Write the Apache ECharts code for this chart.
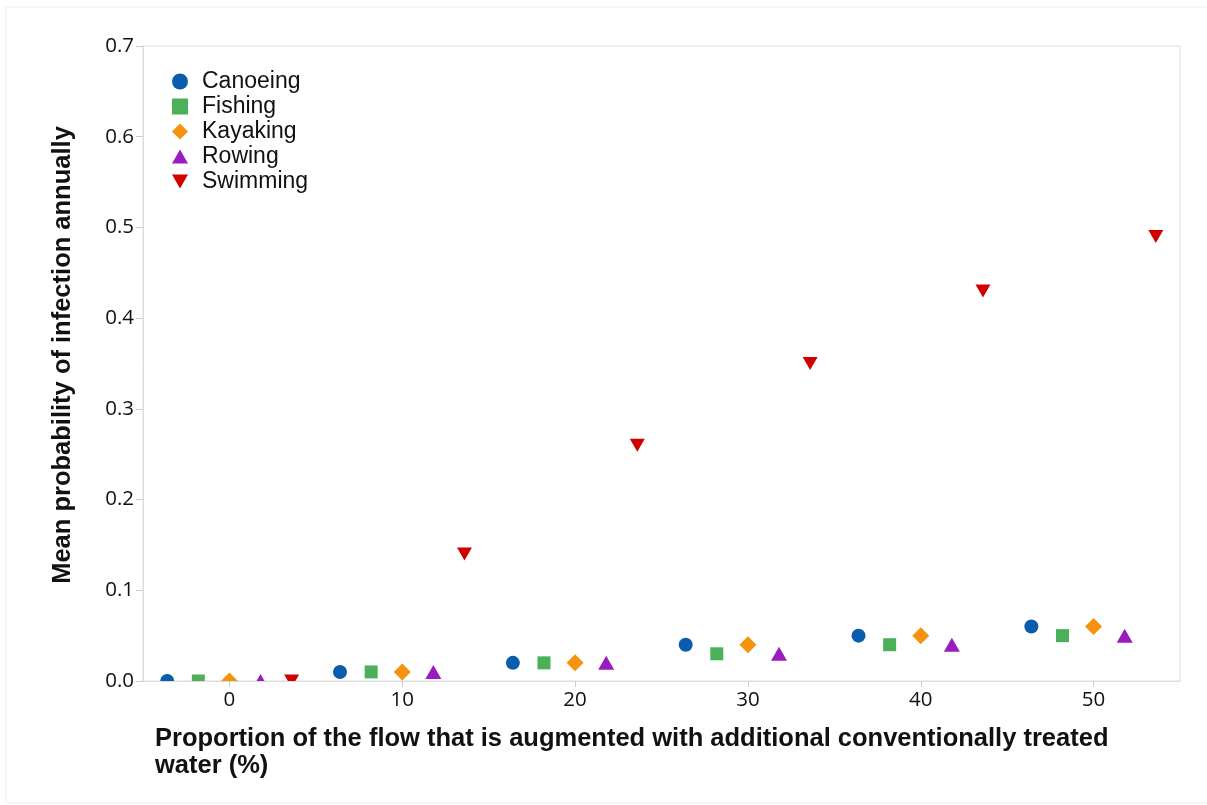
<!DOCTYPE html>
<html>
<head>
<meta charset="utf-8">
<script src="https://cdn.jsdelivr.net/npm/echarts@6/dist/echarts.min.js"></script>
<style>
  html, body { margin: 0; padding: 0; background: #fff; }
  #chart { width: 1207px; height: 805px; }
</style>
</head>
<body>
<div id="chart"></div>
<script>
// Augmentation levels (% of flow) and mean annual infection probability per activity
const augmentation = [0, 10, 20, 30, 40, 50];
const activities = ['Canoeing', 'Fishing', 'Kayaking', 'Rowing', 'Swimming'];
const canoeing = [0.00, 0.01, 0.02, 0.04, 0.05, 0.06];
const fishing  = [0.00, 0.01, 0.02, 0.03, 0.04, 0.05];
const kayaking = [0.00, 0.01, 0.02, 0.04, 0.05, 0.06];
const rowing   = [0.00, 0.01, 0.02, 0.03, 0.04, 0.05];
const swimming = [0.00, 0.14, 0.26, 0.35, 0.43, 0.49];
const xTicks = [0, 10, 20, 30, 40, 50];
const yTicks = [0, 0.1, 0.2, 0.3, 0.4, 0.5, 0.6, 0.7];

const seriesValues = [canoeing, fishing, kayaking, rowing, swimming];
// horizontal dodge so the groups at each level don't overlap
const dodge = [-3.6, -1.8, 0, 1.8, 3.6];
const DIAMOND = 'path://M5,0L10,5L5,10L0,5Z';
const TRI_DOWN = 'path://M0,0L10,0L5,8.66Z';
const TRI_UP = 'path://M5,0L10,8.66L0,8.66Z';
const styles = [
  { color: '#0a5cad', symbol: 'circle', size: 14 },
  { color: '#4caf5a', symbol: 'rect', size: 13 },
  { color: '#f5930f', symbol: DIAMOND, size: 17 },
  { color: '#9a1bbf', symbol: TRI_UP, size: [16, 14] },
  { color: '#d00000', symbol: TRI_DOWN, size: [15, 13] }
];

const series = activities.map((name, i) => ({
  name,
  type: 'scatter',
  z: 2,
  symbol: styles[i].symbol,
  symbolSize: styles[i].size,
  itemStyle: { color: styles[i].color, opacity: 1 },
  data: augmentation.map((x, j) => [x + dodge[i], seriesValues[i][j]])
}));

const chart = echarts.init(document.getElementById('chart'));
const titleFont = 'Liberation Sans, Arial, sans-serif';
const tickFont = 'Open Sans, Noto Sans, sans-serif';
chart.setOption({
  backgroundColor: '#fff',
  animation: false,
  grid: {
    left: 143, right: 27, top: 46, bottom: 124,
    show: true, borderColor: '#dcdcdc', borderWidth: 1
  },
  legend: {
    orient: 'vertical',
    left: 167, top: 64,
    itemWidth: 16, itemHeight: 16, itemGap: 0,
    textStyle: {
      fontFamily: titleFont, fontSize: 23, color: '#111',
      lineHeight: 25, padding: [0, 0, 0, 9]
    },
    data: activities.map((name, i) => ({ name, icon: styles[i].symbol }))
  },
  xAxis: {
    type: 'value',
    min: -5, max: 55,
    z: 5,
    splitLine: { show: false },
    axisLine: { show: true, onZero: false, lineStyle: { color: '#dcdcdc' } },
    axisTick: { show: true, customValues: xTicks, length: 6, lineStyle: { color: '#cccccc' } },
    axisLabel: { customValues: xTicks, fontFamily: tickFont, fontSize: 20.5, color: '#111', margin: 9 }
  },
  yAxis: {
    type: 'value',
    min: 0, max: 0.7, interval: 0.1,
    z: 5,
    splitLine: { show: false },
    axisLine: { show: true, onZero: false, lineStyle: { color: '#dcdcdc' } },
    axisTick: { show: true, length: 7, lineStyle: { color: '#cccccc' } },
    axisLabel: {
      customValues: yTicks,
      fontFamily: tickFont, fontSize: 20.5, color: '#111', margin: 9,
      formatter: v => v.toFixed(1)
    }
  },
  graphic: [
    // outer faint frame
    { type: 'rect', z: 0, silent: true,
      shape: { x: 6, y: 7, width: 1220, height: 796 },
      style: { fill: 'none', stroke: '#ececec', lineWidth: 1 } },
    // mask the part of markers that falls below the plot floor
    { type: 'rect', z: 3, silent: true,
      shape: { x: 130, y: 682, width: 1060, height: 9 },
      style: { fill: '#fff' } },
    // y-axis title
    { type: 'text', x: 63, y: 355, rotation: Math.PI / 2, z: 5,
      style: {
        text: 'Mean probability of infection annually',
        font: 'bold 25.5px ' + titleFont, fill: '#111',
        align: 'center', verticalAlign: 'middle'
      } },
    // x-axis title
    { type: 'text', left: 155, top: 725, z: 5,
      style: {
        text: 'Proportion of the flow that is augmented with additional conventionally treated\nwater (%)',
        font: 'bold 25.5px ' + titleFont, fill: '#111', lineHeight: 27
      } }
  ],
  series
});
</script>
</body>
</html>
